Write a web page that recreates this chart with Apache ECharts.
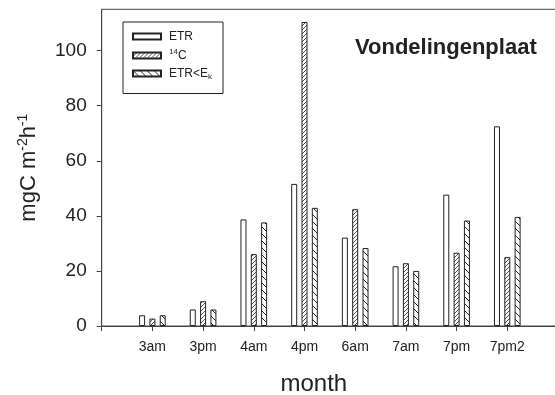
<!DOCTYPE html>
<html>
<head>
<meta charset="utf-8">
<script src="https://cdn.jsdelivr.net/npm/echarts@6/dist/echarts.min.js"></script>
<style>
  html, body { margin: 0; padding: 0; background: #fff; }
  #chart { width: 555px; height: 395px; }
</style>
</head>
<body>
<div id="chart"></div>
<script>
// data
const categories = ["3am", "3pm", "4am", "4pm", "6am", "7am", "7pm", "7pm2"];
const etr = [3.9, 6.0, 38.7, 51.6, 32.1, 21.7, 47.7, 72.5];
const c14 = [2.7, 9.0, 26.1, 110.4, 42.4, 22.8, 26.6, 25.0];
const etrEk = [3.9, 6.0, 37.6, 42.9, 28.3, 20.0, 38.3, 39.6];
const yTicks = [0, 20, 40, 60, 80, 100];

const FONT = "'Liberation Sans', Arial, sans-serif";
const INK = "#222";

// hatch fill tiles
function hatch(size, dir, lw) {
  const c = document.createElement("canvas");
  c.width = c.height = size;
  const g = c.getContext("2d");
  g.fillStyle = "#fff";
  g.fillRect(0, 0, size, size);
  g.strokeStyle = INK;
  g.lineWidth = lw;
  g.beginPath();
  if (dir === "/") {
    g.moveTo(0, size); g.lineTo(size, 0);
    g.moveTo(-1, 1); g.lineTo(1, -1);
    g.moveTo(size - 1, size + 1); g.lineTo(size + 1, size - 1);
  } else {
    g.moveTo(0, 0); g.lineTo(size, size);
    g.moveTo(-1, size - 1); g.lineTo(1, size + 1);
    g.moveTo(size - 1, -1); g.lineTo(size + 1, 1);
  }
  g.stroke();
  return { image: c, repeat: "repeat" };
}

// blank slot at each end so the groups sit on ticks like the original
const pad = arr => [null].concat(arr, [null]);
const xData = [""].concat(categories, [""]);

const legendNames = {
  "ETR": "{n|ETR}",
  "14C": "{sup|14}{n|C}",
  "ETR<Ek": "{n|ETR<E}{sub|k}"
};

function barSeries(name, values, fill) {
  return {
    name: name,
    type: "bar",
    data: pad(values),
    barWidth: 6,
    barGap: "72%",
    itemStyle: { color: fill, borderColor: INK, borderWidth: 1 }
  };
}

const chart = echarts.init(document.getElementById("chart"), null, { renderer: "canvas" });

chart.setOption({
  animation: false,
  textStyle: { fontFamily: FONT, color: INK },
  title: {
    text: "Vondelingenplaat",
    left: 355,
    top: 36,
    padding: 0,
    textStyle: { fontFamily: FONT, fontSize: 22, fontWeight: "bold", color: INK, lineHeight: 24 }
  },
  legend: {
    left: 123,
    top: 22,
    orient: "vertical",
    itemWidth: 28,
    itemHeight: 6,
    itemGap: 5,
    padding: [8, 11, 13, 9],
    borderColor: INK,
    borderWidth: 1,
    icon: "rect",
    formatter: name => legendNames[name],
    textStyle: {
      fontFamily: FONT,
      fontSize: 12,
      lineHeight: 13,
      color: INK,
      padding: [0, 0, 0, 3],
      rich: {
        n: { fontSize: 12, fontFamily: FONT, color: INK },
        sup: { fontSize: 8, fontFamily: FONT, color: INK, padding: [0, 0, 7, 0] },
        sub: { fontSize: 8, fontFamily: FONT, color: INK, padding: [6, 0, 0, 0] }
      }
    }
  },
  grid: {
    left: 101.7,
    right: -3,
    top: 9.3,
    bottom: 69,
    outerBoundsMode: "none",
    show: true,
    borderColor: "#444",
    borderWidth: 1
  },
  xAxis: {
    type: "category",
    data: xData,
    boundaryGap: false,
    name: "month",
    nameLocation: "middle",
    nameGap: 46,
    nameTextStyle: { fontFamily: FONT, fontSize: 24, color: INK, lineHeight: 24, padding: [0, 32, 0, 0] },
    axisLine: { lineStyle: { color: "#444", width: 1 } },
    axisTick: { show: true, length: 5, interval: 0, lineStyle: { color: "#444" } },
    axisLabel: { interval: 0, margin: 13, fontFamily: FONT, fontSize: 14, color: INK, lineHeight: 16 },
    splitLine: { show: false }
  },
  yAxis: {
    type: "value",
    min: 0,
    max: 115,
    interval: 20,
    name: "{a|mgC m}{s|-2}{a|h}{s|-1}",
    nameLocation: "middle",
    nameRotate: 90,
    nameGap: 60,
    nameTextStyle: {
      rich: {
        a: { fontFamily: FONT, fontSize: 22, color: INK },
        s: { fontFamily: FONT, fontSize: 14, color: INK, padding: [0, 0, 12, 0] }
      }
    },
    axisLine: { show: true, lineStyle: { color: "#444", width: 1 } },
    axisTick: { show: true, length: 5, customValues: yTicks, lineStyle: { color: "#444" } },
    axisLabel: { margin: 15, fontFamily: FONT, fontSize: 19, color: INK, customValues: yTicks },
    splitLine: { show: false }
  },
  series: [
    barSeries("ETR", etr, "#fff"),
    barSeries("14C", c14, hatch(4, "/", 0.8)),
    barSeries("ETR<Ek", etrEk, hatch(7, "\\", 1))
  ]
});
</script>
</body>
</html>
